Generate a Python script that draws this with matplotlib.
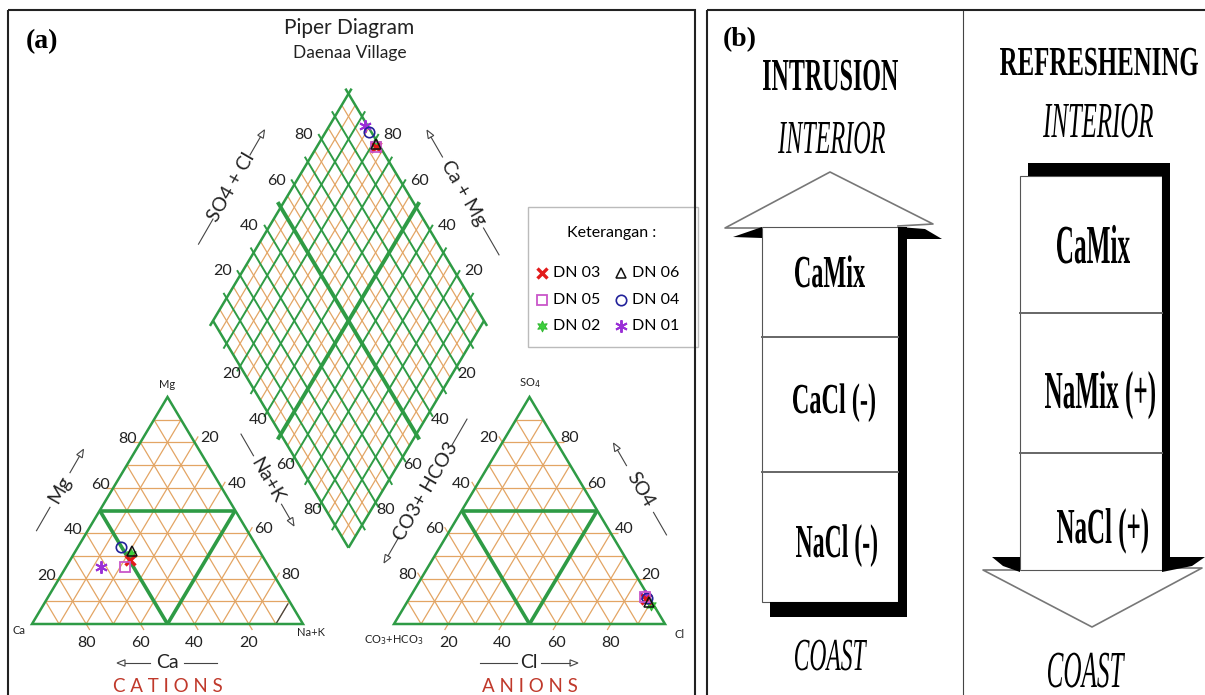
import numpy as np
import matplotlib
matplotlib.use('Agg')
import matplotlib.pyplot as plt
from matplotlib.patches import Polygon, Rectangle
from matplotlib.patheffects import AbstractPathEffect
from matplotlib.transforms import Affine2D
from matplotlib.textpath import TextPath
from matplotlib.font_manager import FontProperties

# ---------------- data ----------------
samples = ['DN 01', 'DN 02', 'DN 03', 'DN 04', 'DN 05', 'DN 06']
ca_pct = [62, 48, 50, 50, 53, 47]
mg_pct = [25, 31, 28, 34, 25, 32]
nak_pct = [13, 21, 22, 16, 22, 21]
hco3_pct = [1, 1, 1.5, 1, 1.5, 1]
so4_pct = [12.5, 8.5, 11, 11.5, 12, 9.5]
cl_pct = [86.5, 90.5, 87.5, 87.5, 86.5, 89.5]
tick_values = [20, 40, 60, 80]
legend_order = ['DN 03', 'DN 05', 'DN 02', 'DN 06', 'DN 04', 'DN 01']
zones_intrusion = ['CaMix', 'CaCl (-)', 'NaCl (-)']
zones_refresh = ['CaMix', 'NaMix (+)', 'NaCl (+)']

# ---------------- styles ----------------
styles = {
    'DN 01': dict(marker=(6, 2, 0), ms=9, mfc='none', mec='#9a2fd6', mew=1.4),
    'DN 02': dict(marker=(6, 1, 0), ms=8, mfc='#3ccf3c', mec='#2fb52f', mew=0.6),
    'DN 03': dict(marker='x', ms=6.5, mec='#e21b1b', mew=2.4),
    'DN 04': dict(marker='o', ms=7.5, mfc='none', mec='#22229a', mew=1.2),
    'DN 05': dict(marker='s', ms=7, mfc='none', mec='#c956c9', mew=1.3),
    'DN 06': dict(marker='^', ms=6.5, mfc='none', mec='#111111', mew=1.1),
}

W, H, DPI = 1205, 695, 100
fig = plt.figure(figsize=(W / DPI, H / DPI), dpi=DPI)
ax = fig.add_axes([0, 0, 1, 1])
ax.set_xlim(0, W)
ax.set_ylim(H, 0)
ax.axis('off')

SANS = ['Lato', 'DejaVu Sans']
SERIF = 'Liberation Serif'
GREEN = '#2e9b45'
ORANGE = '#e3a564'
GREY = '#333333'

S, TH, BASE = 271.0, 227.0, 624.0
CX0, AX0 = 32.0, 394.0


def tern(x0, top, right):
    top = np.asarray(top, float) / 100
    right = np.asarray(right, float) / 100
    return x0 + S * (right + top / 2), BASE - TH * top


def diamond(nak, hco3):
    x1 = CX0 + S * np.asarray(nak, float) / 100
    x2 = AX0 + S * (100 - np.asarray(hco3, float)) / 100
    t = x2 - x1
    return x1 + t / 2, BASE - t * TH / S


def seg(p, q, ext0=0, ext1=0, **kw):
    p = np.array(p, float)
    q = np.array(q, float)
    u = (q - p) / np.hypot(*(q - p))
    p = p - u * ext0
    q = q + u * ext1
    ax.plot([p[0], q[0]], [p[1], q[1]], solid_capstyle='butt', **kw)


def draw_tri(x0, ext_top, ext_right, ext_left):
    for v in range(10, 100, 10):
        fams = [((v, 0), (v, 100 - v), ext_top),
                ((0, v), (100 - v, v), ext_right),
                ((0, 100 - v), (100 - v, 0), ext_left)]
        for (ta, ra), (tb, rb), e in fams:
            pa = tern(x0, ta, ra)
            pb = tern(x0, tb, rb)
            if v == 50:
                seg(pa, pb, color=GREEN, lw=2.6, zorder=3)
            else:
                tk = 7 if v in tick_values else 0
                seg(pa, pb, ext0=tk if e == 0 else 0, ext1=tk if e == 1 else 0,
                    color=ORANGE, lw=0.9, zorder=2)
    corners = [tern(x0, 0, 0), tern(x0, 0, 100), tern(x0, 100, 0)]
    ax.add_patch(Polygon(corners, closed=True, fill=False, ec=GREEN, lw=1.8, zorder=4))


# cation triangle: top=Mg, right=Na+K ; anion: top=SO4, right=Cl
draw_tri(CX0, 0, 1, 0)
draw_tri(AX0, 1, 0, 1)

# small dark tick in cation triangle
seg(tern(CX0, 0, 90), tern(CX0, 9, 90), color='#444444', lw=0.9, zorder=3)

# diamond grid
for v in range(0, 101, 5):
    for a, b in [((v, 0), (v, 100)), ((0, v), (100, v))]:
        pa = diamond(*a)
        pb = diamond(*b)
        if v % 10 == 0:
            lw = 2.8 if v == 50 else (1.8 if v in (0, 100) else 1.4)
            e = 0 if v == 100 else 6
            seg(pa, pb, ext0=e, ext1=e, color=GREEN, lw=lw, zorder=3)
        else:
            seg(pa, pb, color=ORANGE, lw=0.9, zorder=2)

# ---------------- tick labels ----------------
tkw = dict(fontsize=11.5, family=SANS, color='#222222', ha='center', va='center', zorder=5)
for v in tick_values:
    # cation
    x, y = tern(CX0, 0, 100 - v)
    ax.text(x, y + 19, str(v), **tkw)
    x, y = tern(CX0, v, 0)
    ax.text(x - 13, y - 3, str(v), **tkw)
    x, y = tern(CX0, 100 - v, v)
    ax.text(x + 15, y - 4, str(v), **tkw)
    # anion
    x, y = tern(AX0, 0, v)
    ax.text(x, y + 19, str(v), **tkw)
    x, y = tern(AX0, 100 - v, 0)
    ax.text(x - 14, y - 4, str(v), **tkw)
    x, y = tern(AX0, v, 100 - v)
    ax.text(x + 13, y - 4, str(v), **tkw)
    # diamond
    x, y = diamond(0, 100 - v)
    ax.text(x - 18, y - 4, str(v), **tkw)
    x, y = diamond(100 - v, 0)
    ax.text(x + 17, y - 4, str(v), **tkw)
    x, y = diamond(v, 100)
    ax.text(x - 9, y + 8, str(v), **tkw)
    x, y = diamond(100, v)
    ax.text(x + 10, y + 8, str(v), **tkw)

# vertex labels
vkw = dict(fontsize=8, family=SANS, color='#222222', ha='center', va='center')
x, y = tern(CX0, 100, 0); ax.text(x, y - 12, 'Mg', **vkw)
x, y = tern(CX0, 0, 0); ax.text(x - 13, y + 7, 'Ca', **vkw)
x, y = tern(CX0, 0, 100); ax.text(x + 8, y + 9, 'Na+K', **vkw)
x, y = tern(AX0, 100, 0); ax.text(x, y - 14, r'SO$_4$', **vkw)
x, y = tern(AX0, 0, 0); ax.text(x, y + 16, r'CO$_3$+HCO$_3$', **vkw)
x, y = tern(AX0, 0, 100); ax.text(x + 15, y + 11, 'Cl', **vkw)


# ---------------- axis titles with arrows ----------------
def axis_title(cx, cy, ang, text, gap, slen, arrow_end):
    a = np.deg2rad(ang)
    u = np.array([np.cos(a), -np.sin(a)])
    n = np.array([-u[1], u[0]])
    c = np.array([cx, cy])
    ax.text(cx, cy, text, rotation=ang, rotation_mode='anchor', ha='center', va='center',
            fontsize=14, family=SANS, color='#222222')
    for sgn in (-1, 1):
        p0 = c + sgn * gap * u
        p1 = c + sgn * (gap + slen) * u
        if sgn == arrow_end:
            tip = p1
            bc = tip - sgn * 8 * u
            ax.plot([p0[0], bc[0]], [p0[1], bc[1]], color='#444444', lw=0.8)
            ax.add_patch(Polygon([tip, bc + 3.2 * n, bc - 3.2 * n], closed=True,
                                 fc='white', ec='#444444', lw=0.8))
        else:
            ax.plot([p0[0], p1[0]], [p0[1], p1[1]], color='#444444', lw=0.8)


axis_title(60, 490, 60, 'Mg', 20, 27, 1)
axis_title(267.5, 480, -60, 'Na+K', 28, 25, 1)
axis_title(167, 663, 0, 'Ca', 17, 33, -1)
axis_title(425.5, 491, 60, 'CO3+ HCO3', 53, 30, -1)
axis_title(640, 489, -60, 'SO4', 27, 26, -1)
axis_title(529, 663, 0, 'Cl', 12, 37, 1)
axis_title(231.5, 187, 60, 'SO4 + Cl', 37, 29, 1)
axis_title(463, 192.5, -60, 'Ca + Mg', 41, 31, -1)

ax.text(168, 687, 'C A T I O N S', ha='center', va='center', fontsize=13.5,
        family=SANS, color='#c0392b')
ax.text(530, 687, 'A N I O N S', ha='center', va='center', fontsize=13.5,
        family=SANS, color='#c0392b')

# ---------------- data points ----------------
for i, name in enumerate(samples):
    st = styles[name]
    x, y = tern(CX0, mg_pct[i], nak_pct[i])
    ax.plot([x], [y], ls='none', zorder=6, **st)
    x, y = tern(AX0, so4_pct[i], cl_pct[i])
    ax.plot([x], [y], ls='none', zorder=6, **st)
    x, y = diamond(nak_pct[i], hco3_pct[i])
    ax.plot([x], [y], ls='none', zorder=6, **st)

# ---------------- titles ----------------
ax.text(349, 28, 'Piper Diagram', ha='center', va='center', fontsize=15, family=SANS, color='#222222')
ax.text(350, 53, 'Daenaa Village', ha='center', va='center', fontsize=12.5, family=SANS, color='#222222')
ax.text(42, 42, '(a)', ha='center', va='center', fontsize=20, family=SERIF, weight='bold')
ax.text(740, 40, '(b)', ha='center', va='center', fontsize=20, family=SERIF, weight='bold')

# ---------------- legend ----------------
ax.add_patch(Rectangle((528, 207), 170, 140, fill=True, fc='white', ec='#bbbbbb', lw=1, zorder=7))
ax.text(612, 233, 'Keterangan :', ha='center', va='center', fontsize=11.5, family=SANS, zorder=8)
rows = [273, 300, 326]
cols = [(542, 553), (621, 632)]
for k, name in enumerate(legend_order):
    mx, tx = cols[k // 3]
    ry = rows[k % 3]
    ax.plot([mx], [ry], ls='none', zorder=8, **styles[name])
    ax.text(tx, ry, name, ha='left', va='center', fontsize=11.5, family=SANS, zorder=8)

# ---------------- panel borders ----------------
ax.add_patch(Rectangle((8, 10), 687, 700, fill=False, ec='#222222', lw=1.5, zorder=9))
ax.add_patch(Rectangle((707, 10), 520, 700, fill=False, ec='#222222', lw=1.5, zorder=9))
ax.plot([963, 963], [10, 700], color='#444444', lw=0.8)


# ---------------- panel (b) ----------------
class VStretch(AbstractPathEffect):
    def __init__(self, sy):
        super().__init__()
        self.sy = sy

    def draw_path(self, renderer, gc, tpath, affine, rgbFace=None):
        renderer.draw_path(gc, tpath, Affine2D().scale(1.0, self.sy) + affine, rgbFace)


def ctext(s, left, right, base, cap, weight='bold', style='normal'):
    fp = FontProperties(family=SERIF, weight=weight, style=style)
    capr = TextPath((0, 0), 'H', size=100, prop=fp).get_extents().height / 100
    e100 = TextPath((0, 0), s, size=100, prop=fp).get_extents()
    fs_px = (right - left) / (e100.width / 100)
    x = left - e100.x0 / 100 * fs_px
    sy = cap / (capr * fs_px)
    fp2 = FontProperties(family=SERIF, weight=weight, style=style, size=fs_px * 72 / DPI)
    ax.text(x, base, s, fontproperties=fp2, ha='left', va='baseline', color='black',
            path_effects=[VStretch(sy)], zorder=10)


# intrusion arrow (up)
ax.add_patch(Rectangle((762, 227), 136, 375, fc='white', ec='#555555', lw=0.8, zorder=2))
ax.add_patch(Polygon([(898, 227), (907, 227), (907, 617), (770, 617), (770, 602), (898, 602)],
                     closed=True, fc='black', ec='none', zorder=3))
for yy in (337, 472):
    ax.plot([762, 898], [yy, yy], color='#666666', lw=1.4, zorder=3)
ax.plot([762, 725, 830, 933, 898], [228, 228, 172, 224, 226], color='#777777', lw=1.2, zorder=3)
ax.add_patch(Polygon([(733, 237), (762, 227), (762, 238)], closed=True, fc='black', ec='none', zorder=3))
ax.add_patch(Polygon([(899, 227), (925, 229), (942, 239), (899, 239)], closed=True, fc='black', ec='none', zorder=3))

# refreshening arrow (down)
ax.add_patch(Rectangle((1020, 176), 142, 394, fc='white', ec='#555555', lw=0.8, zorder=2))
ax.add_patch(Polygon([(1028, 163), (1170, 163), (1170, 560), (1162, 560), (1162, 176), (1028, 176)],
                     closed=True, fc='black', ec='none', zorder=3))
for yy in (313, 453):
    ax.plot([1020, 1162], [yy, yy], color='#666666', lw=1.4, zorder=3)
ax.plot([1020, 983, 1092, 1202, 1170], [570, 570, 627, 568, 568], color='#777777', lw=1.2, zorder=3)
ax.add_patch(Polygon([(992, 557), (1020, 557), (1020, 572), (1003, 566)], closed=True, fc='black', ec='none', zorder=3))
ax.add_patch(Polygon([(1162, 557), (1205, 557), (1192, 566), (1162, 572)], closed=True, fc='black', ec='none', zorder=3))

ctext('INTRUSION', 763, 898, 90, 30)
ctext('INTERIOR', 778, 885, 153, 31, weight='normal', style='italic')
ctext('REFRESHENING', 1000, 1198, 75, 27)
ctext('INTERIOR', 1043, 1153, 137, 33, weight='normal', style='italic')
ctext(zones_intrusion[0], 795, 865, 287, 30)
ctext(zones_intrusion[1], 793, 875, 413, 28)
ctext(zones_intrusion[2], 796, 877, 557, 31)
ctext('COAST', 795, 867, 670, 30, weight='normal', style='italic')
ctext(zones_refresh[0], 1057, 1130, 263, 36)
ctext(zones_refresh[1], 1045, 1155, 408, 35)
ctext(zones_refresh[2], 1057, 1148, 543, 33)
ctext('COAST', 1048, 1125, 687, 34, weight='normal', style='italic')

fig.savefig('out.png', dpi=DPI)
